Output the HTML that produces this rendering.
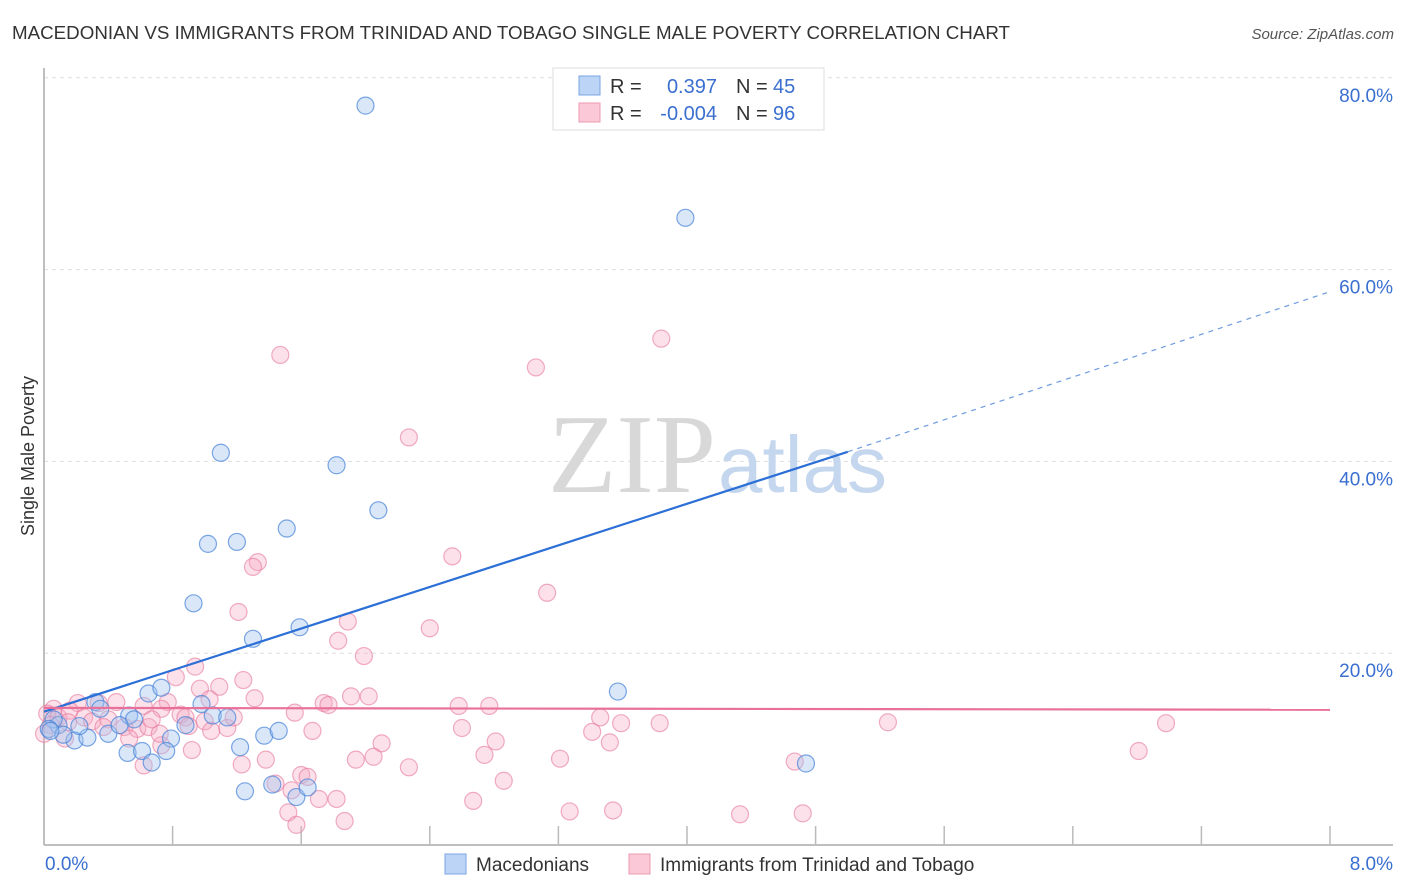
<!DOCTYPE html>
<html><head><meta charset="utf-8">
<style>
body{margin:0;background:#fff;font-family:"Liberation Sans",sans-serif;}
svg{display:block}
</style></head>
<body>
<svg id="chart" width="1406" height="892" xmlns="http://www.w3.org/2000/svg">
<text x="12" y="39" font-size="18" fill="#333" textLength="998" lengthAdjust="spacingAndGlyphs">MACEDONIAN VS IMMIGRANTS FROM TRINIDAD AND TOBAGO SINGLE MALE POVERTY CORRELATION CHART</text>
<text x="1394" y="39" font-size="15" fill="#555" font-style="italic" text-anchor="end">Source: ZipAtlas.com</text>
<g id="grid"></g>
<text x="716" y="492" font-size="112" font-family="Liberation Serif,serif" fill="#d8d8d8" text-anchor="end">ZIP</text>
<text x="718" y="492" font-size="80" fill="#c5d7ee">atlas</text>
<g id="axes"></g>
<g id="pts"></g>
<g id="lines"></g>
<text transform="translate(34,456) rotate(-90)" font-size="18" fill="#333" text-anchor="middle">Single Male Poverty</text>
<g>
<rect x="553" y="68" width="271" height="62" fill="#fff" stroke="#ddd"/>
<rect x="579" y="76" width="21" height="19" fill="#bcd4f6" stroke="#7aa6e0"/>
<rect x="579" y="103" width="21" height="19" fill="#fac8d6" stroke="#ec9ab3"/>
<text x="610" y="93" font-size="20" fill="#333">R =</text>
<text x="717" y="93" font-size="20" fill="#3a6fd0" text-anchor="end">0.397</text>
<text x="736" y="93" font-size="20" fill="#333">N =</text>
<text x="773" y="93" font-size="20" fill="#3a6fd0">45</text>
<text x="610" y="120" font-size="20" fill="#333">R =</text>
<text x="717" y="120" font-size="20" fill="#3a6fd0" text-anchor="end">-0.004</text>
<text x="736" y="120" font-size="20" fill="#333">N =</text>
<text x="773" y="120" font-size="20" fill="#3a6fd0">96</text>
</g>
<g>
<rect x="445" y="854" width="21" height="20" fill="#bcd4f6" stroke="#7aa6e0"/>
<text x="476" y="871" font-size="19" fill="#333">Macedonians</text>
<text x="660" y="871" font-size="19" fill="#333">Immigrants from Trinidad and Tobago</text>
<rect x="629" y="854" width="21" height="20" fill="#fac8d6" stroke="#ec9ab3"/>
</g>
</svg>
<script>
const blueX=[2.00,3.99,1.10,1.82,2.08,1.51,1.02,1.20,0.93,1.30,1.59,3.57,4.74,0.65,0.73,0.32,0.35,0.53,0.56,0.40,0.19,0.27,0.09,0.06,0.03,0.12,0.98,1.05,1.14,0.88,0.79,0.52,0.61,0.76,0.67,1.22,1.37,1.46,1.25,1.42,1.57,1.64,0.47,0.04,0.22];
const blueY=[77.1,65.4,40.9,39.6,34.9,33.0,31.4,31.6,25.2,21.5,22.7,16.0,8.5,15.8,16.4,14.9,14.2,13.5,13.1,11.6,10.9,11.2,12.5,13.1,12.1,11.5,14.7,13.5,13.3,12.5,11.1,9.6,9.8,9.8,8.6,10.2,11.4,11.9,5.6,6.3,5.0,6.0,12.5,11.9,12.4];
const pinkX=[1.47,3.84,3.06,2.27,2.54,3.13,1.33,1.30,1.21,1.89,2.40,1.83,1.99,0.94,0.82,1.24,1.09,0.97,1.03,1.31,0.77,0.73,0.62,0.45,0.34,0.21,0.06,0.02,0.09,0.16,0.25,0.30,0.40,0.50,0.58,0.65,0.67,0.85,0.88,1.00,1.14,1.18,1.56,1.74,1.77,1.91,2.02,2.58,2.77,3.46,3.41,3.59,3.83,5.25,6.98,6.81,1.67,2.10,2.60,2.81,3.52,3.21,2.74,2.27,1.94,2.05,1.38,1.23,0.92,0.73,0.62,1.60,1.64,1.54,1.44,1.71,1.82,1.52,1.57,1.87,2.67,2.86,3.27,3.54,4.33,4.72,4.67,0.53,0.04,0.13,0.00,0.37,1.04,0.72,0.90,0.15];
const pinkY=[51.1,52.8,49.8,42.5,30.1,26.3,29.5,29.0,24.3,23.3,22.6,21.3,19.7,18.6,17.5,17.2,16.5,16.3,15.2,15.3,14.9,14.2,14.5,14.9,14.8,14.8,14.2,13.7,13.3,14.0,13.3,12.9,13.1,12.3,12.1,12.3,13.1,13.6,13.3,12.9,12.2,13.3,13.8,14.8,14.6,15.5,15.5,14.5,14.5,13.3,11.8,12.7,12.7,12.8,12.7,9.8,11.9,10.6,12.2,10.8,10.7,9.0,9.4,8.1,8.9,9.2,8.9,8.4,9.9,10.4,8.3,7.3,7.1,5.7,6.4,4.8,4.8,3.4,2.1,2.5,4.6,6.7,3.5,3.6,3.2,3.3,8.7,11.1,12.5,11.1,11.6,12.3,11.9,11.6,12.4,12.8];
const yTicks=[20,40,60,80];
const xTickLabels=["0.0%","8.0%"];
const blueTrend=[13.9,41.0];
const blueDashEnd=[8.0,57.7];
const pinkTrend=[14.3,14.1];

const NS="http://www.w3.org/2000/svg";
const X0=44,X1=1330,Y0=845,PY=9.59;
const sx=v=>X0+(X1-X0)*v/8;
const sy=v=>Y0-v*PY;
function el(t,a,p){const e=document.createElementNS(NS,t);for(const k in a)e.setAttribute(k,a[k]);p.appendChild(e);return e;}
const grid=document.getElementById('grid'),axes=document.getElementById('axes'),pts=document.getElementById('pts'),lines=document.getElementById('lines');
yTicks.forEach(t=>{
  const l=el('line',{x1:X0,x2:1393,y1:sy(t),y2:sy(t),stroke:'#ddd','stroke-dasharray':'4,4'},grid);
  
  
  const tx=el('text',{x:1393,y:sy(t)+24,'font-size':19,fill:'#3a6fd0','text-anchor':'end'},axes);
  tx.textContent=t.toFixed(1)+'%';
  
  
});
el('line',{x1:X0,x2:X0,y1:68,y2:Y0,stroke:'#aaa','stroke-width':1.5},axes);
el('line',{x1:X0,x2:1393,y1:Y0,y2:Y0,stroke:'#aaa','stroke-width':1.5},axes);
for(let i=1;i<=10;i++){
  const t=el('line',{x1:sx(i*0.8),x2:sx(i*0.8),y1:826,y2:Y0,stroke:'#bbb','stroke-width':1.5},axes);
  
  
}
const xl=el('text',{x:45,y:870,'font-size':19,fill:'#3a6fd0'},axes);xl.textContent=xTickLabels[0];


const xr=el('text',{x:1393,y:870,'font-size':19,fill:'#3a6fd0','text-anchor':'end'},axes);xr.textContent=xTickLabels[1];


pinkX.forEach((x,i)=>{
  const c=el('circle',{cx:sx(x),cy:sy(pinkY[i]),r:8.5,fill:'rgba(245,170,195,0.35)',stroke:'rgba(230,120,155,0.6)','stroke-width':1.2},pts);
  
  
});
blueX.forEach((x,i)=>{
  const c=el('circle',{cx:sx(x),cy:sy(blueY[i]),r:8.5,fill:'rgba(160,195,240,0.4)',stroke:'rgba(70,130,215,0.7)','stroke-width':1.2},pts);
  
  
});
const bl=el('line',{x1:sx(0),y1:sy(blueTrend[0]),x2:sx(5.0),y2:sy(blueTrend[1]),stroke:'#2c6fd6','stroke-width':2.2},lines);


const bd=el('line',{x1:sx(5.0),y1:sy(blueTrend[1]),x2:sx(blueDashEnd[0]),y2:sy(blueDashEnd[1]),stroke:'#6d9be0','stroke-width':1.2,'stroke-dasharray':'5,5'},lines);


const pl=el('line',{x1:sx(0),y1:sy(pinkTrend[0]),x2:sx(8),y2:sy(pinkTrend[1]),stroke:'#e8709a','stroke-width':2.2},lines);


</script>
</body></html>
